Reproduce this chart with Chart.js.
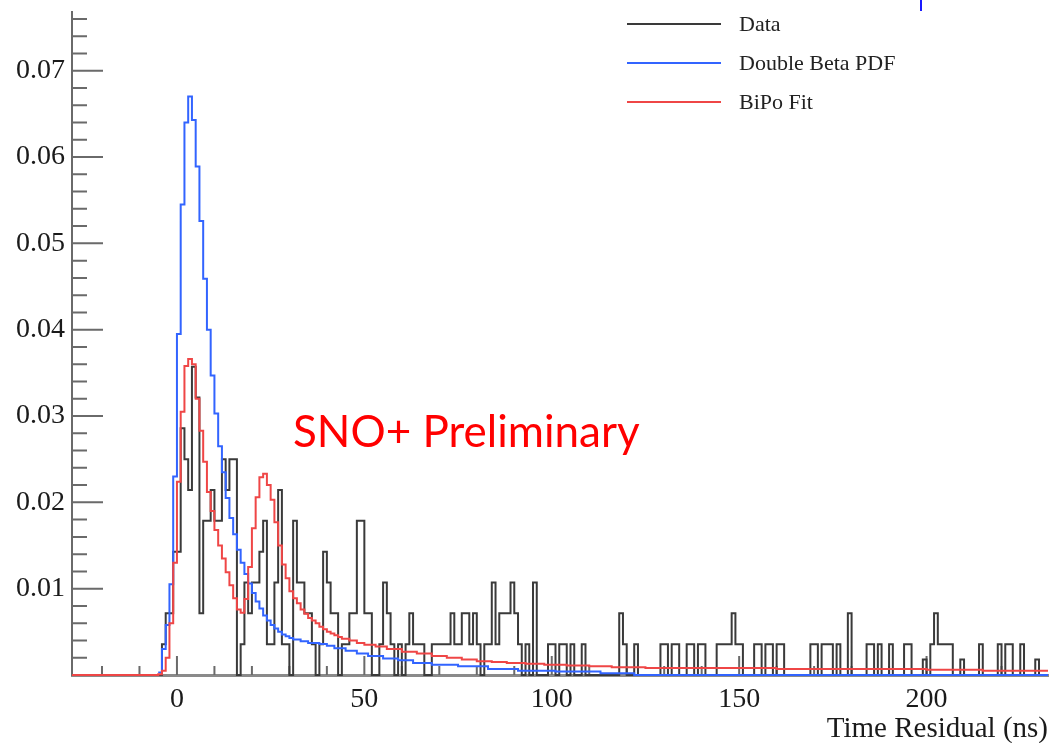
<!DOCTYPE html>
<html>
<head>
<meta charset="utf-8">
<title>Time Residual</title>
<script src="https://cdn.jsdelivr.net/npm/chart.js@4.4.1/dist/chart.umd.min.js"></script>
<style>
  html, body { margin: 0; padding: 0; background: #fff; }
  canvas { display: block; }
</style>
</head>
<body>
<canvas id="chart" width="1050" height="743"></canvas>
<script>
// x axis (ns) and y axis ranges
const X_MIN = -28;
const X_MAX = 232.4;
const Y_MAX = 0.0768;

// Data histogram: 1 ns bins starting at DATA_START, counts per bin
const DATA_START = -5;
const DATA_NORM = 280; // counts -> normalised fraction
const dataCounts = [
    0, 1, 2, 2, 4, 4, 8, 7, 6, 10,      // -5 .. 4
    9, 2, 5, 5, 6, 5, 5, 7, 6, 7,       // 5 .. 14
    7, 0, 1, 3, 2, 3, 3, 4, 5, 1,       // 15 .. 24
    1, 3, 6, 1, 1, 0, 5, 3, 3, 2,       // 25 .. 34
    2, 1, 0, 1, 4, 3, 2, 2, 0, 1,       // 35 .. 44
    1, 2, 2, 5, 5, 2, 2, 0, 0, 1,       // 45 .. 54
    3, 2, 1, 0, 1, 0, 1, 2, 1, 1,       // 55 .. 64
    1, 0, 0, 1, 1, 1, 1, 1, 2, 1,       // 65 .. 74
    1, 2, 2, 1, 2, 1, 0, 1, 1, 3,       // 75 .. 84
    1, 2, 2, 2, 3, 2, 1, 0, 1, 0,       // 85 .. 94
    3, 0, 0, 0, 1, 1, 0, 1, 1, 0,       // 95 .. 104
    1, 0, 0, 1, 0, 0, 0, 0, 0, 0,       // 105 .. 114
    0, 0, 0, 2, 1, 0, 0, 1, 0, 0,       // 115 .. 124
    0, 0, 0, 0, 1, 1, 0, 1, 1, 0,       // 125 .. 134
    0, 1, 1, 0, 1, 1, 0, 0, 0, 1,       // 135 .. 144
    1, 1, 1, 2, 1, 1, 0, 0, 0, 1,       // 145 .. 154
    1, 0, 1, 1, 0, 1, 1, 0, 0, 0,       // 155 .. 164
    0, 0, 0, 0, 1, 1, 0, 1, 1, 1,       // 165 .. 174
    0, 1, 0, 0, 2, 0, 0, 0, 0, 1,       // 175 .. 184
    1, 0, 1, 0, 0, 1, 0, 0, 0, 1,       // 185 .. 194
    1, 0, 0, 0, 0.5, 0, 1, 2, 1, 1,     // 195 .. 204
    1, 1, 0, 0, 0.5, 0, 0, 0, 0, 1,     // 205 .. 214
    0, 0, 0, 0, 1, 0, 1, 1, 0, 0,       // 215 .. 224
    1, 0, 0, 0, 0.5, 0, 0               // 225 .. 231
];

// Double Beta PDF: bin left edges (ns) and heights
const blueEdges = [
    -5, -4, -3, -2, -1, 0, 1, 2, 3, 4, 5, 6, 7, 8, 9, 10, 11, 12, 13, 14,
    15, 16, 17, 18, 19, 20, 21, 22, 23, 24, 25, 26, 27, 28, 29, 30, 31,
    33, 35, 38, 40, 42, 45, 48, 51, 55, 59, 63, 68, 75, 83, 91, 101, 113, 122
];
const blueValues = [
    0.0003, 0.003, 0.0058, 0.0105, 0.023, 0.0395, 0.0545, 0.064, 0.067, 0.0643,
    0.0589, 0.0526, 0.0459, 0.040, 0.0347, 0.0303, 0.0265, 0.0235, 0.0205, 0.0182,
    0.0163, 0.0145, 0.013, 0.0117, 0.0106, 0.0095, 0.0085, 0.0077, 0.0069, 0.0063,
    0.0058, 0.0054, 0.005, 0.0047, 0.0045, 0.0043, 0.0041,
    0.0039, 0.0037, 0.0036, 0.0034, 0.0031, 0.0028, 0.0025, 0.0022, 0.0019, 0.0017,
    0.0014, 0.0012, 0.001, 0.0007, 0.0005, 0.0004, 0.0002, 0
];

// BiPo Fit: bin left edges (ns) and heights
const redEdges = [
    -28,
    -5, -4, -3, -2, -1, 0, 1, 2, 3, 4, 5, 6, 7, 8, 9, 10, 11, 12, 13, 14,
    15, 16, 17, 18, 19, 20, 21, 22, 23, 24, 25, 26, 27, 28, 29, 30, 31, 32, 33, 34,
    35, 36, 37, 38, 39, 40, 41, 42, 43, 44,
    46, 48, 50, 53, 56, 60, 64, 68, 72, 76, 80, 84, 88, 93, 98, 104, 110, 116, 125, 160, 200, 215
];
const redValues = [
    0,
    0.0001, 0.0005, 0.002, 0.006, 0.013, 0.0224, 0.0305, 0.0358, 0.0366, 0.036,
    0.032, 0.0283, 0.0247, 0.0212, 0.019, 0.0168, 0.015, 0.0135, 0.0119, 0.0104,
    0.0089, 0.0076, 0.0072, 0.0088, 0.0125, 0.017, 0.0206, 0.0229, 0.0233, 0.022,
    0.0203, 0.0177, 0.015, 0.0128, 0.0112, 0.0097, 0.0089, 0.0083, 0.0076, 0.0071,
    0.0066, 0.0063, 0.006, 0.0056, 0.0053, 0.005, 0.0048, 0.0046, 0.0044, 0.0042,
    0.004, 0.0037, 0.0035, 0.0033, 0.003, 0.0027, 0.0025, 0.0022, 0.002, 0.0018,
    0.0016, 0.0015, 0.0014, 0.0013, 0.0012, 0.0011, 0.001, 0.0009, 0.0008, 0.0007,
    0.0006, 0.0005
];

const seriesLabels = ['Data', 'Double Beta PDF', 'BiPo Fit'];
const seriesColors = ['#3a3a3a', '#3264ff', '#ef4646'];

// turn edges + heights into step points, closing at the right edge
function stepPoints(edges, values, end) {
    const pts = edges.map((x, i) => ({ x: x, y: values[i] }));
    pts.push({ x: end, y: values[values.length - 1] });
    return pts;
}

const dataPoints = dataCounts.map((c, i) => ({ x: DATA_START + i, y: c / DATA_NORM }));
dataPoints.push({ x: DATA_START + dataCounts.length, y: 0 });

const serif = "'Liberation Serif', 'Times New Roman', serif";

// ROOT style inner tick marks
const rootTicks = {
    id: 'rootTicks',
    beforeDatasetsDraw(chart) {
        const { ctx, chartArea, scales } = chart;
        ctx.save();
        ctx.strokeStyle = '#6a6a6a';
        ctx.lineWidth = 2;
        ctx.beginPath();
        scales.x.ticks.forEach(t => {
            const px = scales.x.getPixelForValue(t.value);
            const len = t.value % 50 === 0 ? 19 : 9;
            ctx.moveTo(px, chartArea.bottom);
            ctx.lineTo(px, chartArea.bottom - len);
        });
        scales.y.ticks.forEach(t => {
            const py = scales.y.getPixelForValue(t.value);
            const k = Math.round(t.value * 1000);
            const len = k % 10 === 0 ? 31 : 15;
            ctx.moveTo(chartArea.left, py);
            ctx.lineTo(chartArea.left + len, py);
        });
        ctx.stroke();
        ctx.restore();
    }
};

// legend in the top right and the "Preliminary" stamp
const overlay = {
    id: 'overlay',
    afterDraw(chart) {
        const ctx = chart.ctx;
        ctx.save();
        ctx.lineWidth = 2;
        ctx.font = '22px ' + serif;
        ctx.textBaseline = 'middle';
        ctx.textAlign = 'left';
        chart.data.datasets.forEach((ds, i) => {
            const y = 24 + i * 39;
            ctx.strokeStyle = ds.borderColor;
            ctx.beginPath();
            ctx.moveTo(627, y);
            ctx.lineTo(721, y);
            ctx.stroke();
            ctx.fillStyle = '#222';
            ctx.fillText(ds.label, 739, y + 1);
        });

        // small blue slide mark at the top edge
        ctx.strokeStyle = '#1a1aff';
        ctx.beginPath();
        ctx.moveTo(921, 0);
        ctx.lineTo(921, 11);
        ctx.stroke();

        ctx.fillStyle = '#ff0000';
        ctx.font = "44px Lato, 'Liberation Sans', sans-serif";
        ctx.textBaseline = 'alphabetic';
        ctx.fillText('SNO+ Preliminary', 293, 447);
        ctx.restore();
    }
};

new Chart(document.getElementById('chart'), {
    type: 'line',
    data: {
        datasets: [
            {
                label: seriesLabels[0],
                data: dataPoints,
                borderColor: seriesColors[0],
                order: 3
            },
            {
                label: seriesLabels[1],
                data: stepPoints(blueEdges, blueValues, X_MAX),
                borderColor: seriesColors[1],
                order: 2
            },
            {
                label: seriesLabels[2],
                data: stepPoints(redEdges, redValues, X_MAX),
                borderColor: seriesColors[2],
                order: 1
            }
        ]
    },
    options: {
        responsive: false,
        animation: false,
        parsing: false,
        normalized: true,
        datasets: {
            line: {
                stepped: true,
                borderWidth: 2,
                pointRadius: 0,
                fill: false,
                clip: false
            }
        },
        layout: { padding: { top: 12, right: 2, left: 0, bottom: 0 } },
        plugins: {
            legend: { display: false },
            tooltip: { enabled: false }
        },
        scales: {
            x: {
                type: 'linear',
                min: X_MIN,
                max: X_MAX,
                grid: { display: false, drawTicks: false },
                border: { display: true, color: '#8a8a8a', width: 3 },
                ticks: {
                    stepSize: 10,
                    includeBounds: false,
                    autoSkip: false,
                    maxRotation: 0,
                    padding: 8,
                    color: '#1a1a1a',
                    font: { family: serif, size: 28 },
                    callback: v => (v % 50 === 0 ? String(v) : '')
                },
                title: {
                    display: true,
                    text: 'Time Residual (ns)',
                    align: 'end',
                    color: '#1a1a1a',
                    font: { family: serif, size: 29 },
                    padding: { top: 0, bottom: -4 }
                },
                afterFit: s => {
                    s.height = 68;
                    s.paddingLeft = 0;
                    s.paddingRight = 0;
                }
            },
            y: {
                type: 'linear',
                min: 0,
                max: Y_MAX,
                grid: { display: false, drawTicks: false },
                border: { display: true, color: '#6a6a6a', width: 2 },
                ticks: {
                    stepSize: 0.002,
                    includeBounds: false,
                    autoSkip: false,
                    padding: 7,
                    color: '#1a1a1a',
                    font: { family: serif, size: 28 },
                    callback: v => {
                        const k = Math.round(v * 1000);
                        return (k % 10 === 0 && k !== 0) ? (k / 1000).toFixed(2) : '';
                    }
                },
                afterFit: s => {
                    s.width = 72;
                    s.paddingTop = 0;
                    s.paddingBottom = 0;
                }
            }
        }
    },
    plugins: [rootTicks, overlay]
});
</script>
</body>
</html>
